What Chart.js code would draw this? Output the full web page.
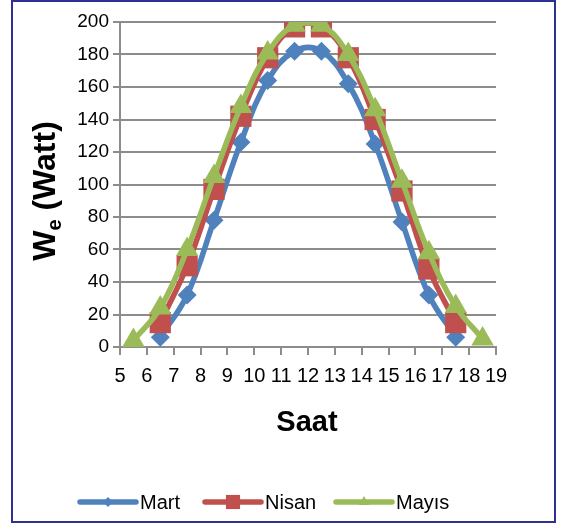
<!DOCTYPE html>
<html>
<head>
<meta charset="utf-8">
<script src="https://cdn.jsdelivr.net/npm/chart.js@4/dist/chart.umd.min.js"></script>
<style>
  html, body { margin: 0; padding: 0; background: #fff; }
  #wrap { width: 561px; height: 525px; position: relative; }
</style>
</head>
<body>
<div id="wrap"><canvas id="chart" width="561" height="525"></canvas></div>
<script>
  // hours (x) per series
  const hoursShort = [6.5, 7.5, 8.5, 9.5, 10.5, 11.5, 12.5, 13.5, 14.5, 15.5, 16.5, 17.5];
  const hoursLong = [5.5, 6.5, 7.5, 8.5, 9.5, 10.5, 11.5, 12.5, 13.5, 14.5, 15.5, 16.5, 17.5, 18.5];

  const mart = [6, 32, 78, 126, 164, 182, 182, 162, 125, 77, 32, 6];
  const nisan = [15, 50, 97, 142, 178, 197, 197, 178, 140, 96, 48, 15];
  const mayis = [4, 24, 60, 105, 148, 181, 198, 198, 180, 146, 102, 58, 25, 5];

  const seriesNames = ['Mart', 'Nisan', 'Mayıs'];
  const colors = ['#4F81BD', '#C0504D', '#9BBB59'];
  const markers = ['rectRot', 'rect', 'triangle'];
  const markerSizes = [9.5, 15, 13];
  const legendMarkerSizes = [5, 10, 6];

  const xTitle = 'Saat';
  const yTitleMain = 'W';
  const yTitleSub = 'e';
  const yTitleRest = ' (Watt)';

  const FONT = '"Liberation Sans", Arial, sans-serif';
  const GRID = '#8C8C8C';

  function pts(xs, ys) {
    return xs.map((x, i) => ({ x: x, y: ys[i] }));
  }

  const datasets = [pts(hoursShort, mart), pts(hoursShort, nisan), pts(hoursLong, mayis)].map((d, i) => ({
    label: seriesNames[i],
    data: d,
    order: 3 - i,   // later series on top, like the original
    borderColor: colors[i],
    backgroundColor: colors[i],
    borderWidth: 5.5,
    tension: 0.4,
    pointStyle: markers[i],
    pointRadius: markerSizes[i],
    pointHoverRadius: markerSizes[i],
    pointBorderWidth: 0
  }));

  // frame, axis titles and the Excel-like legend
  const decor = {
    id: 'decor',
    beforeDraw(chart) {
      const ctx = chart.ctx;
      ctx.save();
      ctx.fillStyle = '#fff';
      ctx.fillRect(0, 0, chart.width, chart.height);
      ctx.strokeStyle = '#2E3192';
      ctx.lineWidth = 2;
      ctx.strokeRect(12, 1, 543, 521);
      ctx.restore();
    },
    afterDraw(chart) {
      const ctx = chart.ctx;
      ctx.save();
      ctx.fillStyle = '#000';

      // x title
      ctx.font = 'bold 29px ' + FONT;
      ctx.textAlign = 'center';
      ctx.textBaseline = 'middle';
      ctx.fillText(xTitle, 307, 423);

      // y title with subscript
      ctx.translate(44, 191);
      ctx.rotate(-Math.PI / 2);
      const big = 'bold 32px ' + FONT;
      const small = 'bold 20px ' + FONT;
      ctx.font = big;
      const wMain = ctx.measureText(yTitleMain).width;
      const wRest = ctx.measureText(yTitleRest).width;
      ctx.font = small;
      const wSub = ctx.measureText(yTitleSub).width;
      let x0 = -(wMain + wSub + wRest) / 2;
      ctx.textAlign = 'left';
      ctx.textBaseline = 'alphabetic';
      ctx.font = big;
      ctx.fillText(yTitleMain, x0, 11);
      ctx.font = small;
      ctx.fillText(yTitleSub, x0 + wMain, 17);
      ctx.font = big;
      ctx.fillText(yTitleRest, x0 + wMain + wSub, 11);
      ctx.restore();

      // legend
      const legendX = [80, 205, 336];
      const ly = 502;
      ctx.save();
      ctx.font = '20px ' + FONT;
      ctx.textBaseline = 'middle';
      ctx.textAlign = 'left';
      chart.data.datasets.forEach((ds, i) => {
        const lx = legendX[i];
        ctx.strokeStyle = ds.borderColor;
        ctx.lineWidth = 5.5;
        ctx.lineCap = 'round';
        ctx.beginPath();
        ctx.moveTo(lx, ly);
        ctx.lineTo(lx + 56, ly);
        ctx.stroke();
        ctx.fillStyle = ds.backgroundColor;
        Chart.helpers.drawPoint(ctx, {
          pointStyle: ds.pointStyle,
          radius: legendMarkerSizes[i],
          rotation: 0,
          borderWidth: 0
        }, lx + 28, ly);
        ctx.fillStyle = '#000';
        ctx.fillText(ds.label, lx + 60, ly + 1);
      });
      ctx.restore();
    }
  };

  new Chart(document.getElementById('chart'), {
    type: 'line',
    data: { datasets: datasets },
    plugins: [decor],
    options: {
      responsive: false,
      animation: false,
      layout: { padding: { left: 0, right: 65, top: 22, bottom: 0 } },
      plugins: {
        legend: { display: false },
        tooltip: { enabled: false }
      },
      scales: {
        x: {
          type: 'linear',
          min: 5,
          max: 19,
          ticks: {
            stepSize: 1,
            autoSkip: false,
            maxRotation: 0,
            color: '#000',
            font: { size: 20, family: FONT },
            padding: 9
          },
          grid: {
            drawOnChartArea: false,
            drawTicks: true,
            tickLength: 8,
            color: GRID,
            lineWidth: 2
          },
          border: { color: GRID, width: 2 },
          afterFit(scale) { scale.height = 178; }
        },
        y: {
          min: 0,
          max: 200,
          ticks: {
            stepSize: 20,
            color: '#000',
            font: { size: 19, family: FONT },
            padding: 4
          },
          grid: {
            color: GRID,
            lineWidth: 2,
            tickLength: 7
          },
          border: { color: GRID, width: 2 },
          afterFit(scale) { scale.width = 120; }
        }
      }
    }
  });
</script>
</body>
</html>
